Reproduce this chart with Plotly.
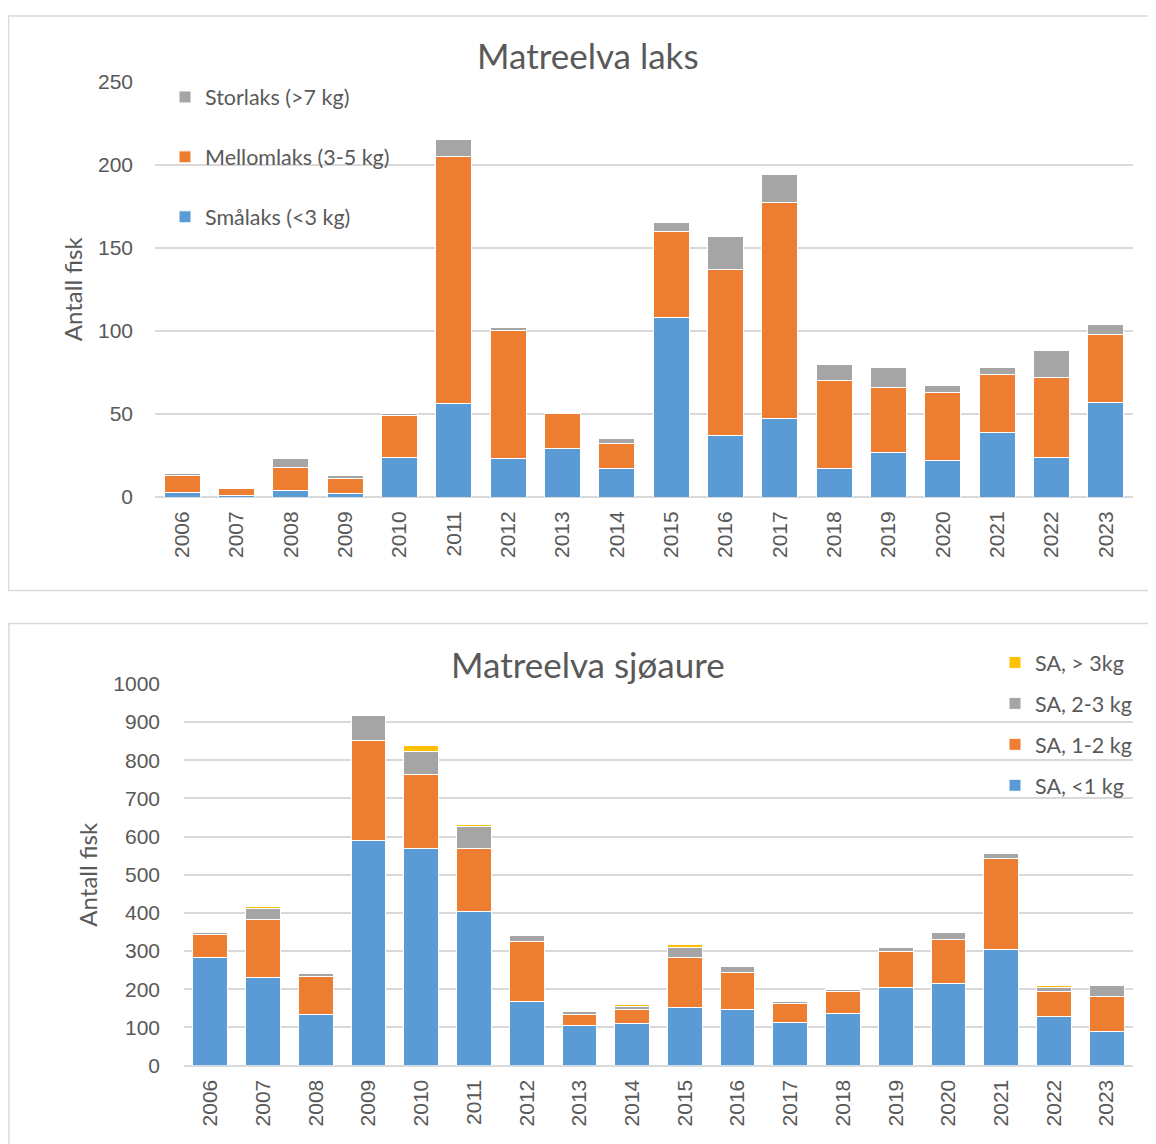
import plotly.graph_objects as go

years = [str(y) for y in range(2006, 2024)]

# Matreelva laks
smalaks = [3, 1, 4, 2, 24, 56, 23, 29, 17, 108, 37, 47, 17, 27, 22, 39, 24, 57]
mellomlaks = [10, 4, 14, 9, 25, 149, 77, 21, 15, 52, 100, 130, 53, 39, 41, 35, 48, 41]
storlaks = [1, 0, 5, 2, 1, 10, 2, 0, 3, 5, 20, 17, 10, 12, 4, 4, 16, 6]

# Matreelva sjøaure
sa_lt1 = [282, 230, 135, 591, 570, 403, 168, 104, 109, 153, 146, 114, 137, 204, 214, 305, 128, 89]
sa_1_2 = [62, 152, 99, 262, 193, 167, 158, 31, 39, 131, 97, 48, 57, 96, 116, 238, 66, 93]
sa_2_3 = [5, 29, 7, 63, 61, 57, 15, 6, 7, 26, 17, 7, 6, 9, 18, 13, 10, 27]
sa_gt3 = [0, 5, 3, 4, 14, 5, 2, 0, 6, 6, 3, 0, 3, 1, 0, 0, 5, 3]

BLUE = "#5B9BD5"
ORANGE = "#ED7D31"
GRAY = "#A5A5A5"
YELLOW = "#FFC000"
TXT = "#595959"
GRID = "#D9D9D9"

W, H = 1156, 1144
# observed page mapping (calibrated)
X_OFF = 8.0
Y_OFF = 18.5
H_EFF = 1122.0

def px_x(p):
    return (p - X_OFF) / W

def px_y(p):
    return 1 - (p - Y_OFF) / H_EFF

fig = go.Figure()

def add(name, vals, color, xa, ya, leg, grp, rank):
    fig.add_trace(go.Bar(
        x=years, y=vals, name=name,
        marker=dict(color=color, line=dict(color="white", width=1)),
        xaxis=xa, yaxis=ya, legend=leg, legendgroup=grp, legendrank=rank,
    ))

add("Smålaks (<3 kg)", smalaks, BLUE, "x", "y", "legend", "a1", 3)
add("Mellomlaks (3-5 kg)", mellomlaks, ORANGE, "x", "y", "legend", "a2", 2)
add("Storlaks (>7 kg)", storlaks, GRAY, "x", "y", "legend", "a3", 1)

add("SA, <1 kg", sa_lt1, BLUE, "x2", "y2", "legend2", "b1", 4)
add("SA, 1-2 kg", sa_1_2, ORANGE, "x2", "y2", "legend2", "b2", 3)
add("SA, 2-3 kg", sa_2_3, GRAY, "x2", "y2", "legend2", "b3", 2)
add("SA, > 3kg", sa_gt3, YELLOW, "x2", "y2", "legend2", "b4", 1)

tickfont = dict(family="Liberation Sans, Arial", size=21, color=TXT)
axtitlefont = dict(family="Lato, Carlito, Calibri", size=24, color=TXT)
legfont = dict(family="Lato, Carlito, Calibri", size=21.5, color=TXT)
titlefont = dict(family="Lato, Carlito, Calibri", size=35, color=TXT)

fig.update_layout(
    width=W, height=H,
    margin=dict(l=0, r=0, t=0, b=0),
    paper_bgcolor="white", plot_bgcolor="white",
    barmode="stack", bargap=0.34,
    font=dict(family="Lato, Carlito, Calibri", color=TXT),
    xaxis=dict(domain=[px_x(155), px_x(1133)], anchor="y", type="category",
               tickangle=-90, tickfont=tickfont, ticks="", ticklabelstandoff=9,
               showgrid=False, showline=False, fixedrange=True),
    yaxis=dict(domain=[px_y(496), px_y(80)], anchor="x", range=[0, 250], dtick=50,
               tickfont=tickfont, ticks="", ticklabelstandoff=21,
               showgrid=True, gridcolor=GRID, gridwidth=2,
               zeroline=True, zerolinecolor=GRID, zerolinewidth=2,
               title=dict(text="Antall fisk", font=axtitlefont, standoff=8)),
    xaxis2=dict(domain=[px_x(184), px_x(1133)], anchor="y2", type="category",
                tickangle=-90, tickfont=tickfont, ticks="", ticklabelstandoff=9,
                showgrid=False, showline=False, fixedrange=True),
    yaxis2=dict(domain=[px_y(1065), px_y(683)], anchor="x2", range=[0, 1000], dtick=100,
                tickfont=tickfont, ticks="", ticklabelstandoff=23,
                showgrid=True, gridcolor=GRID, gridwidth=2,
                zeroline=True, zerolinecolor=GRID, zerolinewidth=2,
                title=dict(text="Antall fisk", font=axtitlefont, standoff=8)),
    legend=dict(x=px_x(165), xanchor="left", y=px_y(75), yanchor="top",
                traceorder="grouped", tracegroupgap=29,
                font=legfont, bgcolor="rgba(0,0,0,0)"),
    legend2=dict(x=px_x(995), xanchor="left", y=px_y(641), yanchor="top",
                 traceorder="grouped", tracegroupgap=10,
                 font=legfont, bgcolor="rgba(0,0,0,0)"),
    annotations=[
        dict(text="Matreelva laks", x=px_x(588), y=px_y(54), xref="paper", yref="paper",
             xanchor="center", yanchor="middle", showarrow=False, font=titlefont),
        dict(text="Matreelva sjøaure", x=px_x(588), y=px_y(663), xref="paper", yref="paper",
             xanchor="center", yanchor="middle", showarrow=False, font=titlefont),
    ],
    shapes=[
        dict(type="rect", xref="paper", yref="paper", x0=px_x(8.5), x1=px_x(1170),
             y0=px_y(589.5), y1=px_y(14.5), line=dict(color=GRID, width=1.5), layer="below"),
        dict(type="rect", xref="paper", yref="paper", x0=px_x(9), x1=px_x(1170),
             y0=px_y(1170), y1=px_y(622.5), line=dict(color=GRID, width=1.5), layer="below"),
    ],
)

fig.write_html("out.html")
